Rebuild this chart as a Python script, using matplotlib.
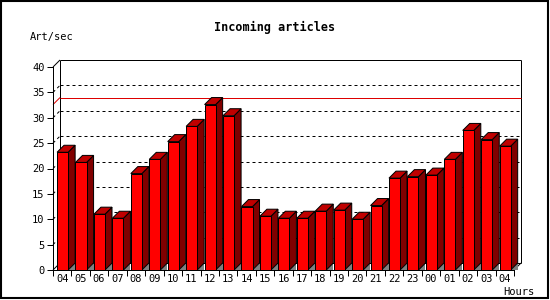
import matplotlib
matplotlib.use("Agg")
import matplotlib.pyplot as plt
from matplotlib.patches import Polygon, Rectangle
import numpy as np

hours = ["04", "05", "06", "07", "08", "09", "10", "11", "12", "13", "14", "15",
         "16", "17", "18", "19", "20", "21", "22", "23", "00", "01", "02", "03", "04"]
values = [23.2, 21.2, 11.0, 10.2, 19.0, 21.8, 25.3, 28.3, 32.6, 30.4, 12.5, 10.6,
          10.2, 10.2, 11.6, 11.8, 10.0, 12.7, 18.1, 18.4, 18.7, 21.8, 27.5, 25.7, 24.4]
yticks = [0, 5, 10, 15, 20, 25, 30, 35, 40]
title = "Incoming articles"
ylabel = "Art/sec"
xlabel = "Hours"

W, H, DPI = 550, 300, 100
fig = plt.figure(figsize=(W / DPI, H / DPI), dpi=DPI)
fig.patch.set_facecolor("white")

# front plane in pixels
x0p, x1p, y0p, y1p = 53, 514, 270, 67
ax = fig.add_axes([x0p / W, (H - y0p) / H, (x1p - x0p) / W, (y0p - y1p) / H])
n = len(values)
ax.set_xlim(0, n)
ax.set_ylim(0, 40)
ax.patch.set_alpha(0)

# depth offset in pixels -> data units
DX_PX, DY_PX = 7, 7
dx = DX_PX * n / (x1p - x0p)
dy = DY_PX * 40 / (y0p - y1p)

mono = "DejaVu Sans Mono"
lw = 0.72

def seg(xs, ys, **kw):
    ax.plot(xs, ys, clip_on=False, lw=lw, solid_capstyle="butt", **kw)

# back plane grid lines (dotted), going diagonally from front axis
for t in yticks[1:-1]:
    seg([0, dx], [t, t + dy], color="black", ls=(0, (3, 3)), zorder=1)
    seg([dx, n + dx], [t + dy, t + dy], color="black", ls=(0, (3, 3)), zorder=1)
# max line in red
vmax = max(values)
seg([0, dx], [vmax, vmax + dy], color="#dd0000", zorder=1.5)
seg([dx, n + dx], [vmax + dy, vmax + dy], color="#dd0000", zorder=1.5)

# back plane frame
seg([0, dx], [40, 40 + dy], color="black", zorder=1)
seg([dx, n + dx], [40 + dy, 40 + dy], color="black", zorder=1)
seg([n + dx, n + dx], [40 + dy, dy], color="black", zorder=1)
seg([n + dx, n], [dy, 0], color="black", zorder=1)
seg([dx, dx], [dy, 40 + dy], color="black", zorder=1)
seg([dx, n + dx], [dy, dy], color="black", zorder=1)
seg([0, dx], [0, dy], color="black", zorder=1)

# bars
off, bw = 0.22, 0.60
for i, v in enumerate(values):
    xl = i + off
    xr = xl + bw
    z = 3 + i * 0.01
    ax.add_patch(Polygon([(xr, 0), (xr + dx, 0), (xr + dx, dy)], closed=True,
                         facecolor="#808080", edgecolor="none", zorder=z, clip_on=False))
    ax.add_patch(Polygon([(xr, 0), (xr, v), (xr + dx, v + dy), (xr + dx, dy)], closed=True,
                         facecolor="#800000", edgecolor="black", lw=lw, zorder=z, clip_on=False))
    ax.add_patch(Polygon([(xl, v), (xr, v), (xr + dx, v + dy), (xl + dx, v + dy)], closed=True,
                         facecolor="#c00000", edgecolor="black", lw=lw, zorder=z, clip_on=False))
    ax.add_patch(Rectangle((xl, 0), bw, v, facecolor="#ff0000", edgecolor="black",
                           lw=lw, zorder=z + 0.001, clip_on=False))

# spines
for s in ["top", "right"]:
    ax.spines[s].set_visible(False)
for s in ["left", "bottom"]:
    ax.spines[s].set_linewidth(lw)
    ax.spines[s].set_zorder(10)

ax.set_yticks(yticks)
ax.set_yticklabels([str(t) for t in yticks], fontfamily=mono, fontsize=7.5)
ax.tick_params(axis="y", direction="out", length=4, width=lw, pad=2)

ax.set_xticks(np.arange(0, n + 1))
ax.set_xticklabels([])
ax.set_xticks(np.arange(n) + 0.5, minor=True)
ax.set_xticklabels(hours, minor=True, fontfamily=mono, fontsize=7.5)
ax.tick_params(axis="x", which="major", direction="out", length=4, width=lw)
ax.tick_params(axis="x", which="minor", length=0, pad=3)

fig.text(275 / W, 1 - 27 / H, title, ha="center", va="center", fontfamily=mono,
         fontweight="bold", fontsize=8.5)
fig.text(30 / W, 1 - 37 / H, ylabel, ha="left", va="center", fontfamily=mono, fontsize=7.5)
fig.text(534 / W, 1 - 292 / H, xlabel, ha="right", va="center", fontfamily=mono, fontsize=7.5)

# outer border
fig.patches.append(Rectangle((0.5 / W, 2 / H), 547.5 / W, 297.5 / H, transform=fig.transFigure,
                             fill=False, edgecolor="black", lw=1.5))

fig.savefig("out.png", dpi=DPI)
